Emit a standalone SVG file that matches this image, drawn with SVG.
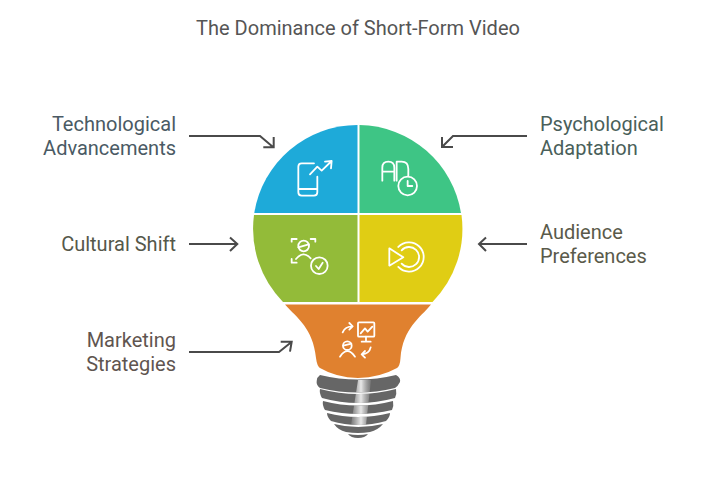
<svg xmlns="http://www.w3.org/2000/svg" width="716" height="480" viewBox="0 0 716 480">
<style>
text{font-family:Roboto,"Liberation Sans",sans-serif;font-size:20px}
.l{text-anchor:end}
.arrow{fill:none;stroke:#4a4a4a;stroke-width:2}
.icon{fill:none;stroke:#fff;stroke-width:5.4;stroke-linecap:round;stroke-linejoin:round}
.screw{fill:#666}
</style>
<defs>
<linearGradient id="shine" x1="0" x2="1" y1="0" y2="0">
<stop offset="0" stop-color="#ddd" stop-opacity=".15"/>
<stop offset=".5" stop-color="#e8e8e8"/>
<stop offset="1" stop-color="#bbb" stop-opacity=".2"/>
</linearGradient>
<clipPath id="sc"><path d="M320 375Q358 384 396 375Q401 378 400 382Q398 386 395 388Q358 397 320 388Q316 385 316.700 381Q317 377 320 375Z"/><path d="M320 389Q358 399 396 389Q397 394 395 398Q358 408 322 398Q319 393 320 389Z"/><path d="M323 401Q358 410 393 401Q394 406 392 410Q358 418 325 410Q322 405 323 401Z"/><path d="M327 413Q358 421 390 413Q390 417 386 421Q358 429 331 421Q327 417 327 413Z"/><path d="M334 424Q358 430 383 424Q378 430 370 432Q358 434 346 432Q338 430 334 424Z"/></clipPath>
</defs>
<text id="title" x="358" y="35" text-anchor="middle" fill="#555">The Dominance of Short-Form Video</text>
<g id="connectors">
<path class="arrow" d="M189 136H260L273 147M273.700 137V147.300H263.300"/>
<path class="arrow" d="M527 136H453L442 147M442 137V147H453"/>
<path class="arrow" d="M189 244H237M230 237.500L237.300 244L230 251"/>
<path class="arrow" d="M527 244H479M486 237.500L479 244L486 251"/>
<path class="arrow" d="M189 352H279L291.500 342M280.700 341.700H291.700L290 351.700"/>
</g>
<g id="technological-advancements">
<path fill="#1eaad9" d="M357.500 125A104.500 104.500 0 0 0 254.300 213H357.500Z"/>
<path class="icon" transform="translate(240 115) scale(.3333)" d="M222 145H185Q175 145 175 155V232Q175 242 185 242H222Q232 242 232 232V185M175 222H232M210 178L232 155L245 167L275 138M255 140L275 138L273 160"/>
<text class="l" x="176" y="131" fill="#4a5a64">Technological</text>
<text class="l" x="176" y="155" fill="#4a5a64">Advancements</text>
</g>
<g id="psychological-adaptation">
<path fill="#3ec585" d="M359.500 125A104.500 104.500 0 0 1 461 213H359.500Z"/>
<path class="icon" transform="translate(240 115) scale(.3333)" d="M427 197V158Q427 140 445 140Q463 140 463 158V197M427 170H463M470 197V140H485Q505 140 505 162V182"/>
<circle class="icon" transform="translate(240 115) scale(.3333)" cx="503" cy="213" r="28"/>
<path class="icon" transform="translate(240 115) scale(.3333)" d="M503 198V213H517"/>
<text x="540" y="131" fill="#4a5f5a">Psychological</text>
<text x="540" y="155" fill="#4a5f5a">Adaptation</text>
</g>
<g id="cultural-shift">
<path fill="#93bb39" d="M357.500 215H254A104.500 104.500 0 0 0 283 302H357.500Z"/>
<g class="icon" transform="translate(240 115) scale(.3333)">
<path d="M155 380V372H170M212 372H226V380M155 432V443H170M168 432Q190 405 212 430M175 397L206 388"/>
<circle cx="191" cy="393" r="16"/>
<circle cx="238" cy="452" r="25"/>
<path d="M228 453L236 462L248 443"/>
</g>
<text class="l" x="176" y="251" fill="#55584a">Cultural Shift</text>
</g>
<g id="audience-preferences">
<path fill="#e0cd14" d="M359.500 215H461.500A104.500 104.500 0 0 1 432.500 302H359.500Z"/>
<g class="icon" transform="translate(240 115) scale(.3333)">
<path d="M448 400L490 427L448 452Z"/>
<path d="M475 396A44 44 0 1 1 475 456"/>
<path d="M485 406A30 30 0 1 1 485 446"/>
</g>
<text x="540" y="239" fill="#5a5a4a">Audience</text>
<text x="540" y="263" fill="#5a5a4a">Preferences</text>
</g>
<g id="marketing-strategies">
<path fill="#e0812f" d="M285 304.500H431C420 318 403 328 400.500 358Q400 366 397 368Q380 377.500 358 378Q336 377.500 320 368Q317 366 316 358C313 328 297 318 285 304.500Z"/>
<g class="icon" transform="translate(330 315) scale(.3333)">
<rect x="84" y="22" width="49" height="43" rx="3"/>
<path d="M108 65V80M95 80H122M92 55L105 40L113 50L127 35M38 52Q45 34 68 34M58 24L68 34L58 44M122 97Q118 116 95 118M105 108L95 118L105 128M30 125Q52 92 75 125M40 92L64 86"/>
<circle cx="52" cy="92" r="13"/>
</g>
<text class="l" x="176" y="347" fill="#5f5550">Marketing</text>
<text class="l" x="176" y="371" fill="#5f5550">Strategies</text>
</g>
<g id="bulb-base">
<path class="screw" d="M320 375Q358 384 396 375Q401 378 400 382Q398 386 395 388Q358 397 320 388Q316 385 316.700 381Q317 377 320 375Z"/>
<path class="screw" d="M320 389Q358 399 396 389Q397 394 395 398Q358 408 322 398Q319 393 320 389Z"/>
<path class="screw" d="M323 401Q358 410 393 401Q394 406 392 410Q358 418 325 410Q322 405 323 401Z"/>
<path class="screw" d="M327 413Q358 421 390 413Q390 417 386 421Q358 429 331 421Q327 417 327 413Z"/>
<path class="screw" d="M334 424Q358 430 383 424Q378 430 370 432Q358 434 346 432Q338 430 334 424Z"/>
<path class="screw" d="M348 434Q358 436 368 434Q365 438 358 438Q351 438 348 434Z"/>
<path fill="url(#shine)" clip-path="url(#sc)" d="M358 380H371L366 425H351Z"/>
</g>
</svg>
